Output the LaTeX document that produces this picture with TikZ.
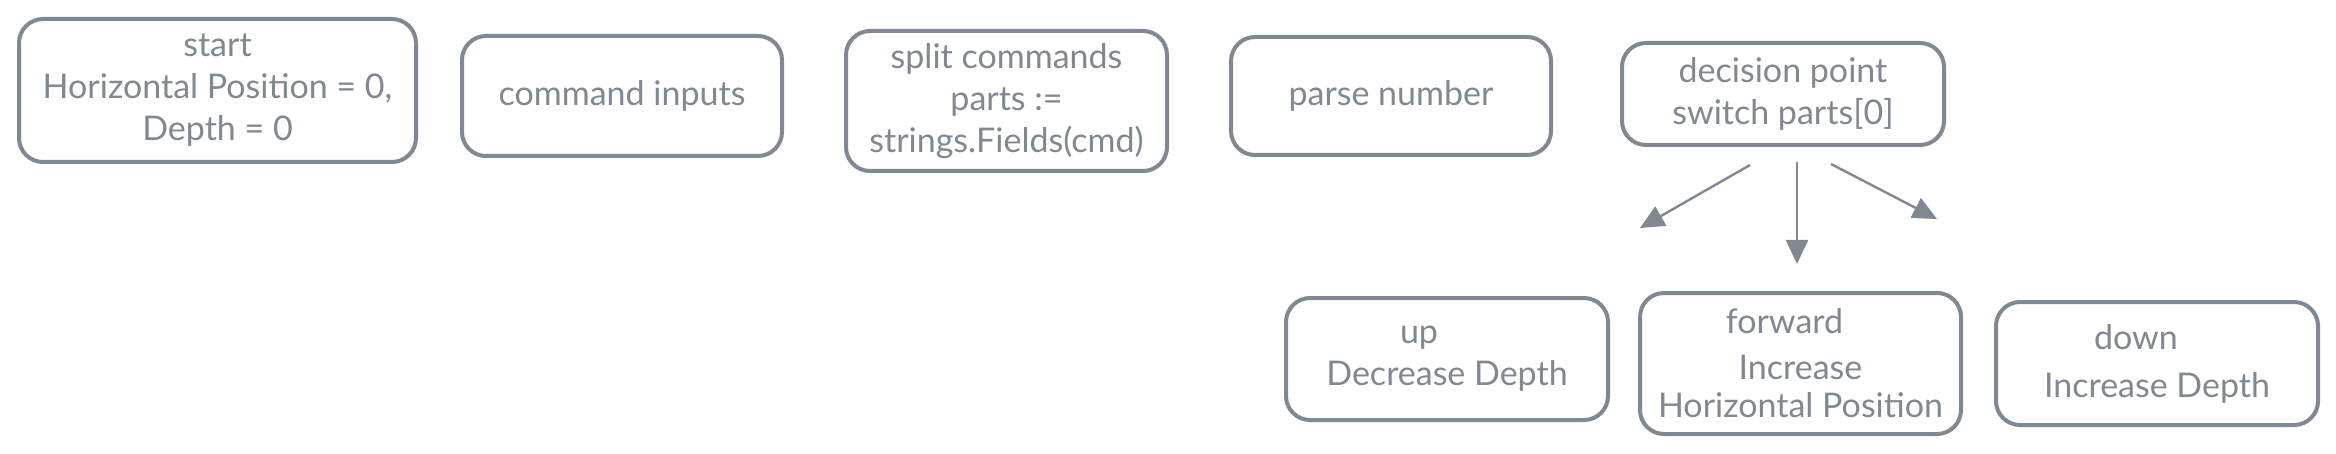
\documentclass[tikz,border=0pt]{standalone}
\usepackage{fontspec}
\setmainfont{Lato}
\usetikzlibrary{arrows.meta}
\definecolor{ink}{HTML}{808891}
\tikzset{
  box/.style={draw=ink, line width=4pt, rounded corners=24pt, text=ink,
    align=center, inner sep=0pt, font=\fontsize{34}{42}\selectfont},
  arr/.style={draw=ink, line width=2.4pt, -{Triangle[length=24pt,width=22pt]}},
}
\begin{document}
\begin{tikzpicture}[x=1pt,y=-1pt]
\useasboundingbox[fill=white] (0,0) rectangle (2336,454);
\node[box, minimum width=397pt, minimum height=143pt] (start) at (217.5,90.5)
  {start\\Horizontal Position = 0,\\Depth = 0};
\node[box, minimum width=320pt, minimum height=120pt] (cmd) at (622,96)
  {command inputs};
\node[box, minimum width=321pt, minimum height=140pt] (split) at (1006.5,101)
  {split commands\\parts :=\\strings.Fields(cmd)};
\node[box, minimum width=320pt, minimum height=118pt] (parse) at (1391,96)
  {parse number};
\node[box, minimum width=322pt, minimum height=102pt] (dec) at (1783,94)
  {decision point\\switch parts[0]};
\node[box, minimum width=322pt, minimum height=122pt] (up) at (1447,359)
  {up\hspace*{56pt}\\Decrease Depth};
\node[box, minimum width=321pt, minimum height=141pt] (fwd) at (1800.5,363.5)
  {forward\hspace*{32pt}\\[4pt]Increase\hspace*{18pt}\\[-4pt]Horizontal Position};
\node[box, minimum width=322pt, minimum height=123pt] (down) at (2157,363.5)
  {down\hspace*{42pt}\\[6pt]Increase Depth};
\coordinate (l0) at (1750,165);
\coordinate (l1) at (1640,228);
\coordinate (m0) at (1797,162);
\coordinate (m1) at (1797,264);
\coordinate (r0) at (1831,164);
\coordinate (r1) at (1937,219);
\draw[arr] (l0) -- (l1);
\draw[arr] (m0) -- (m1);
\draw[arr] (r0) -- (r1);
\end{tikzpicture}
\end{document}
